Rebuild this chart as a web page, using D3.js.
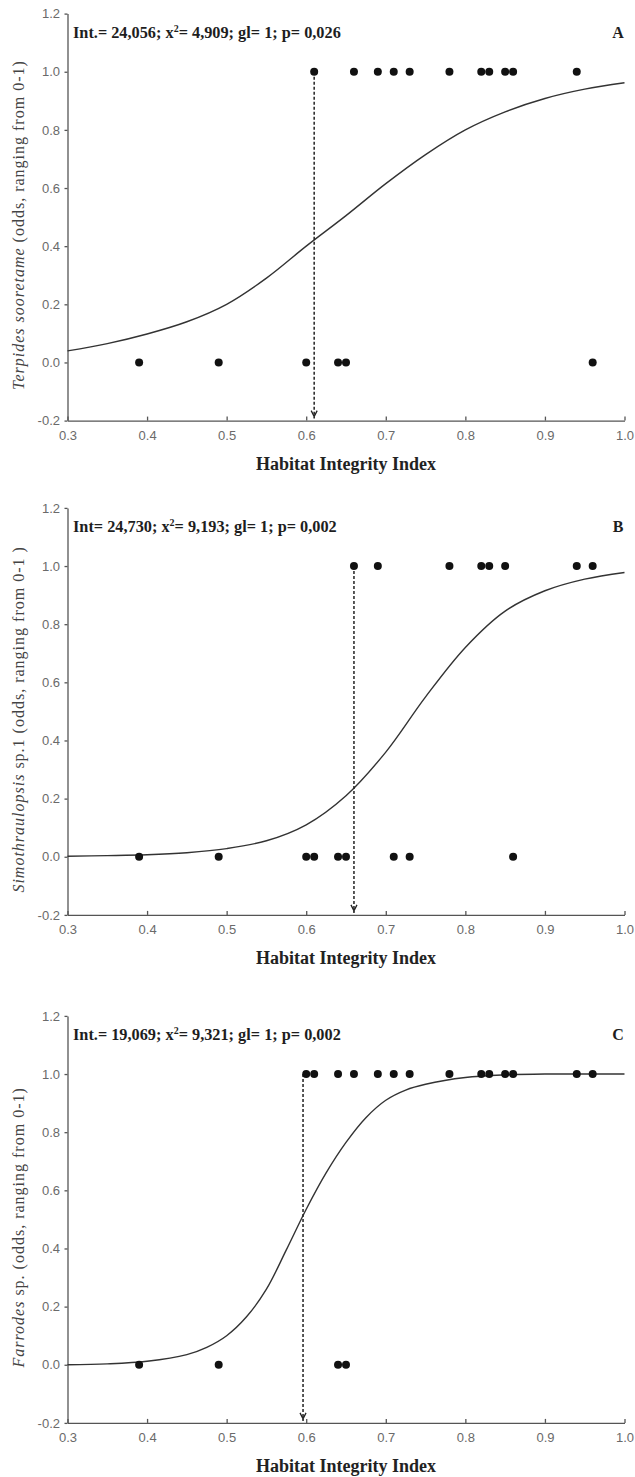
<!DOCTYPE html>
<html>
<head>
<meta charset="utf-8">
<script src="https://cdn.jsdelivr.net/npm/d3@7"></script>
<style>
body { margin: 0; background: #fff; }
.tick text { font-family: "Liberation Sans", Arial, sans-serif; font-size: 13px; fill: #6a6a6a; }
.domain, .tick line { stroke: #555; stroke-width: 1.3; }
</style>
</head>
<body>
<div id="chart"></div>
<script>
//tick values
var xTicks = [0.3, 0.4, 0.5, 0.6, 0.7, 0.8, 0.9, 1.0];
var yTicks = [-0.2, 0.0, 0.2, 0.4, 0.6, 0.8, 1.0, 1.2];

//panel texts
var panelLetters = ["A", "B", "C"];
var intLabels = ["Int.=", "Int=", "Int.="];
var intValues = ["24,056", "24,730", "19,069"];
var chiValues = ["4,909", "9,193", "9,321"];
var glValues = ["1", "1", "1"];
var pValues = ["0,026", "0,002", "0,002"];
var speciesNames = ["Terpides sooretame", "Simothraulopsis", "Farrodes"];
var speciesSuffix = ["", " sp.1", " sp."];
var oddsLabels = [" (odds, ranging from 0-1)", " (odds, ranging from 0-1 )", " (odds, ranging from 0-1)"];
var xTitle = "Habitat Integrity Index";

//habitat integrity of sites where the species was found (1) or not (0)
var presentA = [0.61, 0.66, 0.69, 0.71, 0.73, 0.78, 0.82, 0.83, 0.85, 0.86, 0.94];
var absentA = [0.39, 0.49, 0.60, 0.64, 0.65, 0.96];
var presentB = [0.66, 0.69, 0.78, 0.82, 0.83, 0.85, 0.94, 0.96];
var absentB = [0.39, 0.49, 0.60, 0.61, 0.64, 0.65, 0.71, 0.73, 0.86];
var presentC = [0.60, 0.61, 0.64, 0.66, 0.69, 0.71, 0.73, 0.78, 0.82, 0.83, 0.85, 0.86, 0.94, 0.96];
var absentC = [0.39, 0.49, 0.64, 0.65];

//threshold marked with the dashed arrow
var thresholds = [0.61, 0.66, 0.596];

//fitted logistic curves
var curveA = [[0.30, 0.04], [0.35, 0.065], [0.40, 0.098], [0.45, 0.14], [0.50, 0.20], [0.55, 0.29], [0.60, 0.40],
    [0.65, 0.505], [0.70, 0.615], [0.75, 0.715], [0.80, 0.80], [0.85, 0.862], [0.90, 0.908], [0.95, 0.94], [1.00, 0.962]];
var curveB = [[0.30, 0.002], [0.35, 0.004], [0.40, 0.007], [0.45, 0.014], [0.50, 0.028], [0.55, 0.055], [0.60, 0.11],
    [0.65, 0.21], [0.70, 0.36], [0.75, 0.55], [0.80, 0.72], [0.85, 0.845], [0.90, 0.915], [0.95, 0.955], [1.00, 0.978]];
var curveC = [[0.30, 0.0], [0.35, 0.003], [0.40, 0.012], [0.45, 0.035], [0.475, 0.06], [0.50, 0.10], [0.525, 0.165],
    [0.55, 0.26], [0.575, 0.395], [0.60, 0.535], [0.625, 0.66], [0.65, 0.765], [0.675, 0.85], [0.70, 0.91],
    [0.725, 0.945], [0.75, 0.965], [0.80, 0.988], [0.85, 0.997], [0.90, 1.0], [1.00, 1.0]];

var panels = [
    {present: presentA, absent: absentA, curve: curveA},
    {present: presentB, absent: absentB, curve: curveB},
    {present: presentC, absent: absentC, curve: curveC}
];

//svg area
var svgWidth = 635;
var svgHeight = 1477;
var marginLeft = 67.5;
var plotWidth = 557;
var plotHeight = 407;
var panelTops = [13.6, 507.9, 1015.9];

var serif = '"Liberation Serif", "Times New Roman", serif';

var svg = d3.select("#chart")
    .append("svg")
    .attr("width", svgWidth)
    .attr("height", svgHeight);

var xScale = d3.scaleLinear().domain([0.3, 1.0]).range([0, plotWidth]);
var yScale = d3.scaleLinear().domain([-0.2, 1.2]).range([plotHeight, 0]);

var line = d3.line()
    .x(d => xScale(d[0]))
    .y(d => yScale(d[1]))
    .curve(d3.curveCatmullRom.alpha(0.5));

panels.forEach(function(p, i) {
    var g = svg.append("g").attr("transform", `translate(${marginLeft}, ${panelTops[i]})`);

    //axes
    g.append("g")
        .attr("transform", `translate(0, ${plotHeight})`)
        .call(d3.axisBottom(xScale).tickValues(xTicks).tickFormat(d => d.toFixed(1))
            .tickSizeInner(-4).tickSizeOuter(0).tickPadding(10));

    g.append("g")
        .call(d3.axisLeft(yScale).tickValues(yTicks).tickFormat(d => d.toFixed(1))
            .tickSizeInner(3).tickSizeOuter(0).tickPadding(4.5));

    //fitted curve
    g.append("path")
        .datum(p.curve)
        .attr("d", line)
        .attr("fill", "none")
        .attr("stroke", "#333")
        .attr("stroke-width", 1.4);

    //threshold arrow
    var tx = xScale(thresholds[i]);
    g.append("line")
        .attr("x1", tx).attr("x2", tx)
        .attr("y1", yScale(1.0)).attr("y2", plotHeight - 2)
        .attr("stroke", "#222")
        .attr("stroke-width", 1.5)
        .attr("stroke-dasharray", "3,2");
    g.append("path")
        .attr("d", `M${tx - 3},${plotHeight - 10} L${tx},${plotHeight - 4} L${tx + 3},${plotHeight - 10}`)
        .attr("fill", "none")
        .attr("stroke", "#222")
        .attr("stroke-width", 1.3);

    //points
    g.selectAll(".present")
        .data(p.present)
        .enter()
        .append("circle")
        .attr("cx", d => xScale(d))
        .attr("cy", yScale(1))
        .attr("r", 4)
        .attr("fill", "#111");

    g.selectAll(".absent")
        .data(p.absent)
        .enter()
        .append("circle")
        .attr("cx", d => xScale(d))
        .attr("cy", yScale(0))
        .attr("r", 4)
        .attr("fill", "#111");

    //statistics
    var stats = g.append("text")
        .attr("x", 5.5)
        .attr("y", 24)
        .attr("font-family", serif)
        .attr("font-weight", "bold")
        .attr("font-size", 16.3)
        .attr("fill", "#1e1e1e");
    stats.append("tspan").text(`${intLabels[i]} ${intValues[i]}; x`);
    stats.append("tspan").attr("dy", -6).attr("font-size", 10).text("2");
    stats.append("tspan").attr("dy", 6).text(`= ${chiValues[i]}; gl= ${glValues[i]}; p= ${pValues[i]}`);

    //panel letter
    g.append("text")
        .attr("x", 550.5)
        .attr("y", 24)
        .attr("text-anchor", "middle")
        .attr("font-family", serif)
        .attr("font-weight", "bold")
        .attr("font-size", 16)
        .attr("fill", "#1e1e1e")
        .text(panelLetters[i]);

    //x title
    g.append("text")
        .attr("x", plotWidth / 2)
        .attr("y", plotHeight + 49)
        .attr("text-anchor", "middle")
        .attr("font-family", serif)
        .attr("font-weight", "bold")
        .attr("font-size", 18)
        .attr("fill", "#222")
        .text(xTitle);

    //y title
    var yt = g.append("text")
        .attr("transform", `translate(-49.5, ${plotHeight / 2 + 8}) rotate(-90)`)
        .attr("text-anchor", "middle")
        .attr("dy", "0.35em")
        .attr("font-family", serif)
        .attr("font-size", 16)
        .attr("letter-spacing", 1)
        .attr("fill", "#444");
    yt.append("tspan").attr("font-style", "italic").text(speciesNames[i]);
    yt.append("tspan").text(speciesSuffix[i] + oddsLabels[i]);
});
</script>
</body>
</html>
